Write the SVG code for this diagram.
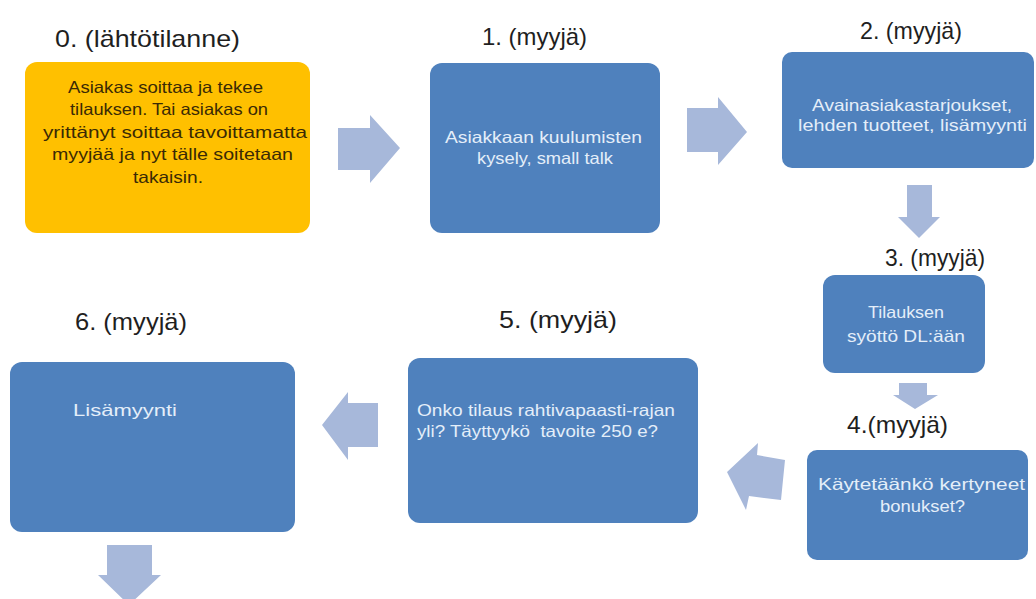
<svg xmlns="http://www.w3.org/2000/svg" width="1036" height="599" viewBox="0 0 1036 599">
  <style>
    .title { font-family: "Liberation Sans", Arial, sans-serif; font-size: 24px; fill: #1f1f1f; }
    .box { fill: #4f81bd; }
    .start { fill: #ffc000; }
    .txt { font-family: "Liberation Sans", Arial, sans-serif; font-size: 16.5px; fill: #e4eef9; }
    .txt-dark { font-family: "Liberation Sans", Arial, sans-serif; font-size: 16.5px; fill: #3a2a05; }
    .arrow { fill: #a7b8da; }
  </style>
  <rect width="1036" height="599" fill="#ffffff"/>

  <!-- flow arrows -->
  <g id="connectors">
    <polygon class="arrow" points="338,128 370,128 370,115 400,148 370,183 370,170 338,170"/>
    <polygon class="arrow" points="687,108 718,108 718,97 747,132 718,165 718,152 687,152"/>
    <polygon class="arrow" points="907,185 932,185 932,217 940,217 919,238 898,217 907,217"/>
    <polygon class="arrow" points="899,383 927,383 927,395 938,395 915,409 893,395 899,395"/>
    <polygon class="arrow" points="727,472 758,443 757,455 785,460 781,500 749,496 746,510"/>
    <polygon class="arrow" points="378,403 378,447 348,447 348,460 322,425 348,392 348,403"/>
    <polygon class="arrow" points="107,545 152,545 152,575 161,575 129,605 98,575 107,575"/>
  </g>

  <!-- step 0 -->
  <g id="step0">
    <text class="title" x="55" y="47" textLength="185" lengthAdjust="spacingAndGlyphs">0. (lähtötilanne)</text>
    <rect class="start" x="25" y="62" width="285" height="171" rx="12"/>
    <text class="txt-dark" x="68" y="93" textLength="195" lengthAdjust="spacingAndGlyphs">Asiakas soittaa ja tekee</text>
    <text class="txt-dark" x="70" y="115" textLength="198" lengthAdjust="spacingAndGlyphs">tilauksen. Tai asiakas on</text>
    <text class="txt-dark" x="43" y="138" textLength="264" lengthAdjust="spacingAndGlyphs">yrittänyt soittaa tavoittamatta</text>
    <text class="txt-dark" x="52" y="160" textLength="241" lengthAdjust="spacingAndGlyphs">myyjää ja nyt tälle soitetaan</text>
    <text class="txt-dark" x="133" y="183" textLength="70" lengthAdjust="spacingAndGlyphs">takaisin.</text>
  </g>

  <!-- step 1 -->
  <g id="step1">
    <text class="title" x="482" y="45" textLength="105" lengthAdjust="spacingAndGlyphs">1. (myyjä)</text>
    <rect class="box" x="430" y="63" width="230" height="170" rx="12"/>
    <text class="txt" x="445" y="143" textLength="197" lengthAdjust="spacingAndGlyphs">Asiakkaan kuulumisten</text>
    <text class="txt" x="477" y="164" textLength="136" lengthAdjust="spacingAndGlyphs">kysely, small talk</text>
  </g>

  <!-- step 2 -->
  <g id="step2">
    <text class="title" x="860" y="39" textLength="102" lengthAdjust="spacingAndGlyphs">2. (myyjä)</text>
    <rect class="box" x="782" y="52" width="252" height="116" rx="10"/>
    <text class="txt" x="812" y="111" textLength="200" lengthAdjust="spacingAndGlyphs">Avainasiakastarjoukset,</text>
    <text class="txt" x="798" y="131" textLength="229" lengthAdjust="spacingAndGlyphs">lehden tuotteet, lisämyynti</text>
  </g>

  <!-- step 3 -->
  <g id="step3">
    <text class="title" x="885" y="266" textLength="100" lengthAdjust="spacingAndGlyphs">3. (myyjä)</text>
    <rect class="box" x="823" y="275" width="162" height="98" rx="12"/>
    <text class="txt" x="868" y="318" textLength="76" lengthAdjust="spacingAndGlyphs">Tilauksen</text>
    <text class="txt" x="847" y="342" textLength="118" lengthAdjust="spacingAndGlyphs">syöttö DL:ään</text>
  </g>

  <!-- step 4 -->
  <g id="step4">
    <text class="title" x="847" y="433" textLength="101" lengthAdjust="spacingAndGlyphs">4.(myyjä)</text>
    <rect class="box" x="807" y="450" width="221" height="110" rx="10"/>
    <text class="txt" x="818" y="490" textLength="207" lengthAdjust="spacingAndGlyphs">Käytetäänkö kertyneet</text>
    <text class="txt" x="880" y="512" textLength="85" lengthAdjust="spacingAndGlyphs">bonukset?</text>
  </g>

  <!-- step 5 -->
  <g id="step5">
    <text class="title" x="499" y="328" textLength="118" lengthAdjust="spacingAndGlyphs">5. (myyjä)</text>
    <rect class="box" x="408" y="358" width="290" height="165" rx="12"/>
    <text class="txt" x="417" y="416" textLength="258" lengthAdjust="spacingAndGlyphs">Onko tilaus rahtivapaasti-rajan</text>
    <text class="txt" x="417" y="437" textLength="241" lengthAdjust="spacingAndGlyphs" xml:space="preserve">yli? Täyttyykö  tavoite 250 e?</text>
  </g>

  <!-- step 6 -->
  <g id="step6">
    <text class="title" x="75" y="330" textLength="112" lengthAdjust="spacingAndGlyphs">6. (myyjä)</text>
    <rect class="box" x="10" y="362" width="285" height="170" rx="12"/>
    <text class="txt" x="73" y="416" textLength="104" lengthAdjust="spacingAndGlyphs">Lisämyynti</text>
  </g>
</svg>
